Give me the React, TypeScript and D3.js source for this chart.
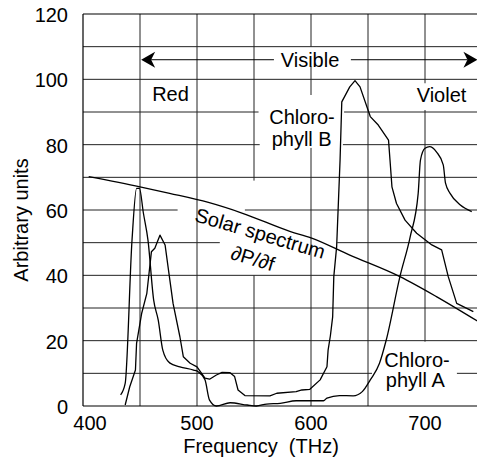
import React from 'react';
import * as d3 from 'd3';

// Frequency (THz) / arbitrary units
const solarFreq = [405, 450, 476, 510, 540, 582, 600, 634, 678, 710, 746];
const solarVal = [70.2, 67.1, 65.1, 62.3, 59, 53.4, 51.5, 46.2, 39.6, 33.5, 26];

const chlAFreq = [433, 437, 443, 447, 449.5, 453, 457, 462, 466, 470, 476, 485, 497, 501, 507, 511, 517, 529, 544, 552, 561, 573, 587, 611, 614, 625, 637, 645, 652, 660, 666, 678, 687, 694, 696, 700, 704, 710, 716, 718, 722, 731, 741];
const chlAVal = [3.4, 6.9, 50.8, 66.6, 66.6, 59, 50.8, 32.4, 26.3, 17.1, 13.2, 12, 11, 10.5, 8, 1.8, 0, 1, 0.3, 0, 0.6, 0.8, 1.6, 1.6, 2.4, 3.2, 3.1, 4.4, 8, 13, 20.2, 39.6, 51.8, 65, 75.3, 78.9, 79.4, 77.8, 73.8, 68.2, 65.1, 61.5, 59.5];

const chlBFreq = [437, 441, 446, 447, 451.5, 456, 460, 463, 467.5, 472, 475, 479, 485, 488, 494, 500, 507, 511, 517, 522, 529, 533, 536, 542, 564, 570, 587, 592, 599, 608, 614, 615, 617, 619, 620, 622.5, 625.5, 627, 634, 638.6, 643, 652, 659, 668, 669.3, 671, 675, 682.5, 692.7, 706, 714.6, 720.4, 727.8, 742.4];
const chlBVal = [0.3, 5.9, 11, 19.2, 28.4, 34.5, 47.2, 48.3, 52.3, 49.3, 41.6, 31.4, 21.2, 15.1, 13.1, 12, 8.5, 8.2, 9.5, 10.3, 10.2, 9, 4.9, 3.2, 3.1, 3.9, 4.4, 4.9, 5.1, 8, 12, 17.1, 21.5, 27.3, 39.6, 48.8, 75.3, 93.1, 97.7, 99.6, 97.7, 88.6, 86, 81.4, 75.3, 67.1, 62, 56.9, 52.9, 49.3, 47.8, 39.6, 31.4, 28.9];

const xTicks = [400, 500, 600, 700];
const yTicks = [0, 20, 40, 60, 80, 100, 120];
const hGridVals = [10, 20, 30, 40, 50, 60, 70, 80, 90, 100, 110];
const vGridVals = [450, 500, 550, 600, 650, 700];

// where grid lines are interrupted by the labels (data units)
const hGaps: Record<number, [number, number][]> = {
  90: [[554, 629]],
  80: [[555, 628]],
  60: [[483, 542]],
  50: [[520, 623]],
  10: [[653.5, 728]],
};
const vGaps: Record<number, [number, number][]> = {
  550: [[40, 69]],
  600: [[79, 95.2], [104, 110]],
  700: [[0, 19.7], [90.6, 98.8]],
};

const W = 477;
const H = 462;
const FONT = '"Liberation Sans", Arial, Helvetica, sans-serif';

const x = d3.scaleLinear().domain([400, 750]).range([83, 482]);
const y = d3.scaleLinear().domain([0, 120]).range([406, 14]);

// split a [lo, hi] interval by the gaps
const segments = (lo: number, hi: number, gaps: [number, number][] = []) => {
  const out: [number, number][] = [];
  let start = lo;
  gaps.slice().sort((a, b) => a[0] - b[0]).forEach(([a, b]) => {
    if (a > start) out.push([start, a]);
    start = Math.max(start, b);
  });
  if (start < hi) out.push([start, hi]);
  return out;
};

const arrowHead = 'M0,0 L14,-8 L10,0 L14,8 Z';

const App: React.FC = () => {
  const smooth = d3.line<[number, number]>()
    .x(d => x(d[0]))
    .y(d => y(d[1]))
    .curve(d3.curveMonotoneX);
  const straight = d3.line<[number, number]>()
    .x(d => x(d[0]))
    .y(d => y(d[1]));

  const solar = solarFreq.map((f, i) => [f, solarVal[i]] as [number, number]);
  const chlA = chlAFreq.map((f, i) => [f, chlAVal[i]] as [number, number]);
  const chlB = chlBFreq.map((f, i) => [f, chlBVal[i]] as [number, number]);

  const arrowY = y(106);
  const arrowL = x(451);
  const arrowR = x(746);

  return (
    <svg width={W} height={H} style={{ position: 'absolute', left: 0, top: 0, background: '#fff' }}
      fontFamily={FONT} fontSize={20}>
      {/* grid */}
      <g stroke="#222" strokeWidth={1} fill="none">
        {hGridVals.map(v =>
          segments(400, 750, hGaps[v]).map(([a, b], k) => (
            <line key={`h${v}-${k}`} x1={x(a)} x2={x(b)} y1={y(v)} y2={y(v)} />
          ))
        )}
        {vGridVals.map(f =>
          segments(0, 120, vGaps[f]).map(([a, b], k) => (
            <line key={`v${f}-${k}`} x1={x(f)} x2={x(f)} y1={y(a)} y2={y(b)} />
          ))
        )}
      </g>
      {/* frame */}
      <g stroke="#000" strokeWidth={1.2} fill="none">
        <line x1={x(400)} x2={x(400)} y1={y(0)} y2={y(120)} />
        <line x1={x(400)} x2={x(750)} y1={y(0)} y2={y(0)} />
        <line x1={x(400)} x2={x(750)} y1={y(120)} y2={y(120)} />
      </g>

      {/* curves */}
      <g fill="none" stroke="#000" strokeWidth={1.3} strokeLinejoin="round">
        <path d={smooth(solar) || ''} />
        <path d={smooth(chlA) || ''} />
        <path d={straight(chlB) || ''} />
      </g>

      {/* visible arrow */}
      <g stroke="#000" strokeWidth={1}>
        <line x1={arrowL + 10} x2={x(567.5)} y1={arrowY} y2={arrowY} />
        <line x1={x(635)} x2={arrowR - 10} y1={arrowY} y2={arrowY} />
      </g>
      <path d={arrowHead} transform={`translate(${arrowL},${arrowY})`} fill="#000" />
      <path d={arrowHead} transform={`translate(${arrowR},${arrowY}) rotate(180)`} fill="#000" />

      {/* axis ticks */}
      <g textAnchor="end" fill="#000">
        {yTicks.map(t => (
          <text key={t} x={68} y={y(t) + 8}>{t}</text>
        ))}
      </g>
      <g textAnchor="middle" fill="#000">
        {xTicks.map(t => (
          <text key={t} x={x(t) + (t === 400 ? 7 : 0)} y={430}>{t}</text>
        ))}
      </g>
      <text x={261} y={453} textAnchor="middle" style={{ whiteSpace: 'pre' }}>{'Frequency  (THz)'}</text>
      <text transform="translate(27.5,220) rotate(-90)" textAnchor="middle">Arbitrary units</text>

      {/* in-plot labels */}
      <g textAnchor="middle" fill="#000">
        <text x={170.5} y={100.7}>Red</text>
        <text x={310} y={66.7}>Visible</text>
        <text x={441.5} y={101.5}>Violet</text>
        <text x={302} y={124}>Chloro-</text>
        <text x={301.7} y={145.5}>phyll B</text>
        <text x={417} y={366.7}>Chloro-</text>
        <text x={415.3} y={386.7}>phyll A</text>
        <g transform="translate(258.3,240) rotate(16.5)">
          <text x={0} y={0}>Solar spectrum</text>
          <text x={0} y={26}>∂P/∂f</text>
        </g>
      </g>
    </svg>
  );
};

export default App;
